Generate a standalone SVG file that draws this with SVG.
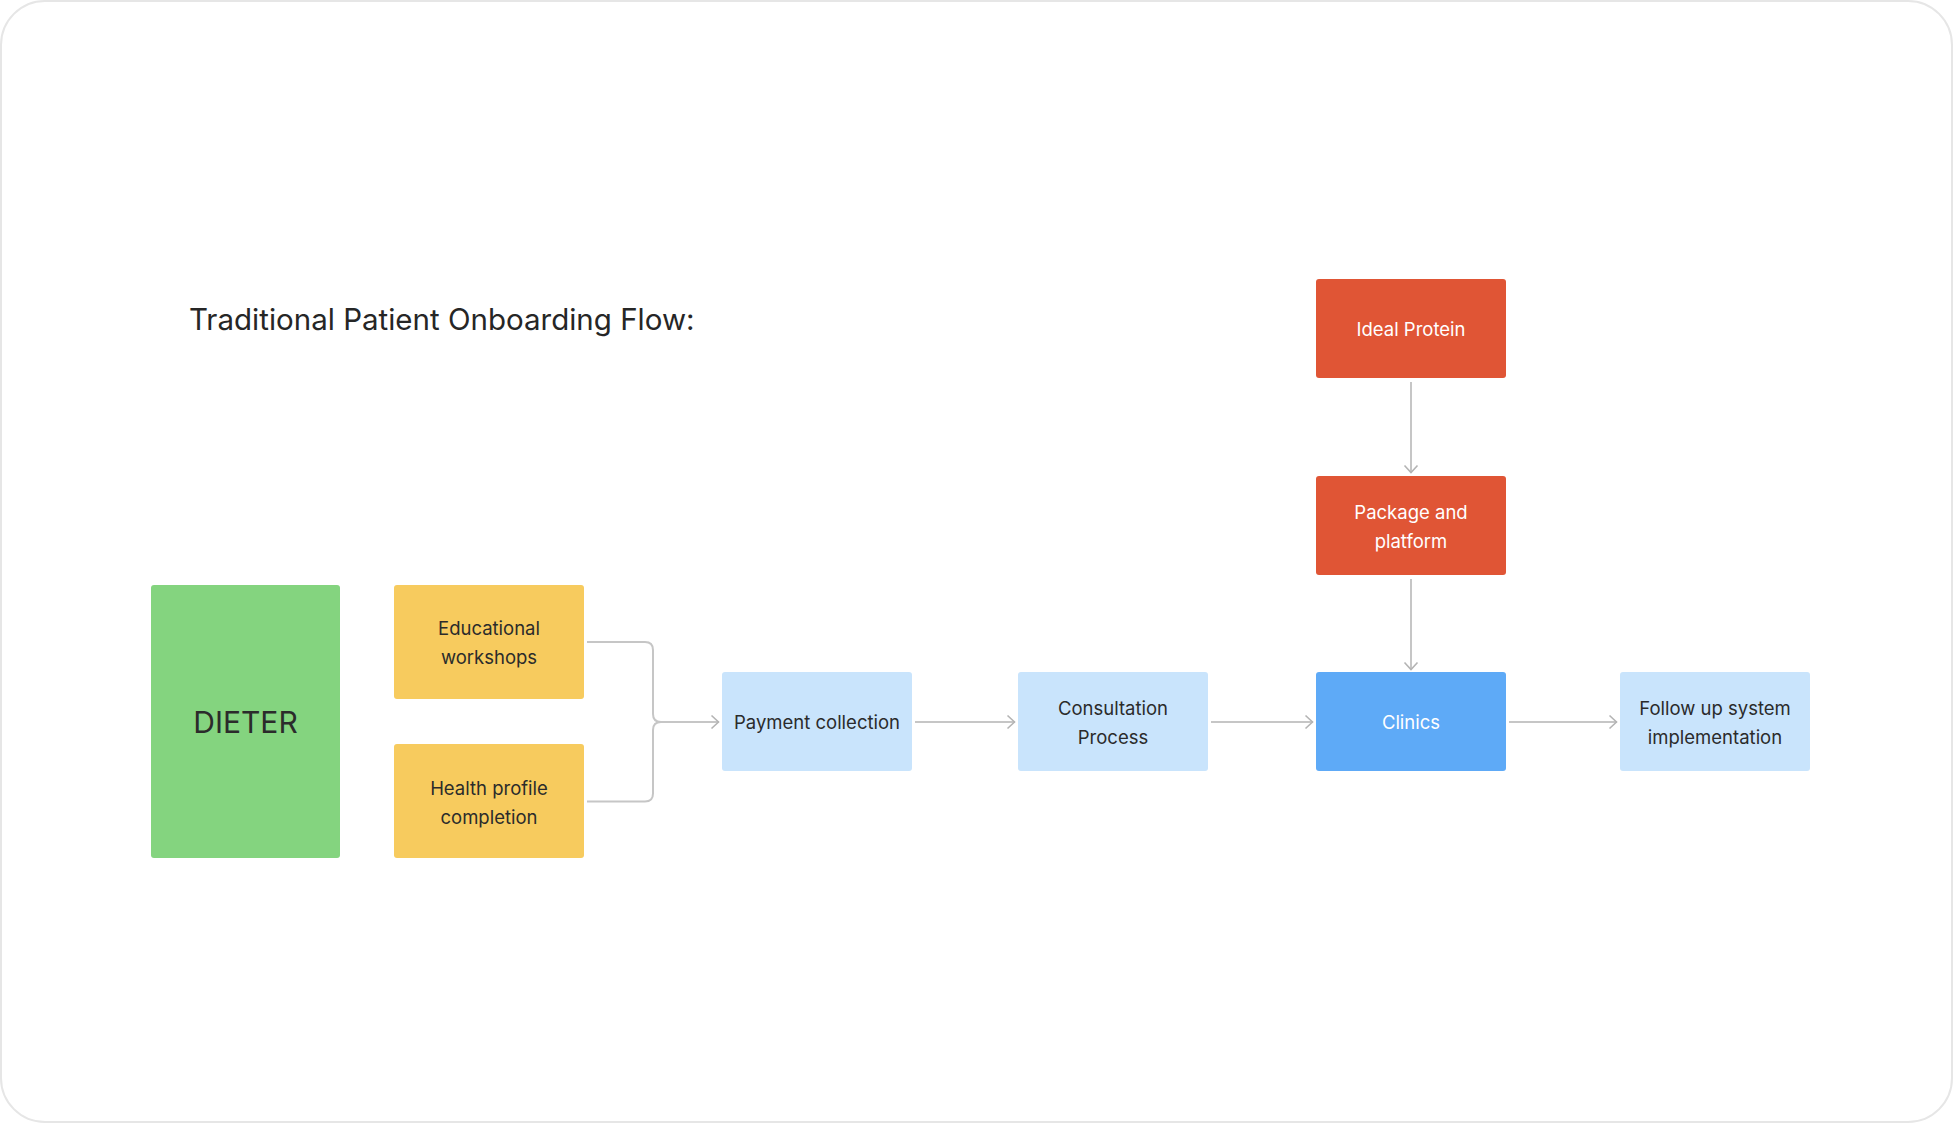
<svg xmlns="http://www.w3.org/2000/svg" width="1954" height="1124" viewBox="0 0 1954 1124">
<defs>
<style>
.lbl{font-family:Inter,"Noto Sans","Liberation Sans",sans-serif;font-size:18.5px;text-anchor:middle;fill:#2b2b2b}
.wht{fill:#ffffff}
.conn{fill:none;stroke:#c6c6c6;stroke-width:2}
</style>
<marker id="arr" viewBox="0 0 10 16" refX="9" refY="8" markerWidth="10" markerHeight="16" markerUnits="userSpaceOnUse" orient="auto">
<path d="M1.5,1.5 L8.5,8 L1.5,14.5" fill="none" stroke="#b4b4b4" stroke-width="1.6"/>
</marker>
</defs>
<rect x="0" y="0" width="1954" height="1124" fill="#ffffff"/>
<rect x="1" y="1" width="1951" height="1121" rx="44" fill="#ffffff" stroke="#e6e6e6" stroke-width="2"/>
<text x="189" y="329.5" font-family="Inter,'Noto Sans','Liberation Sans',sans-serif" font-size="29.5" fill="#262626">Traditional Patient Onboarding Flow:</text>

<g id="connectors">
<path class="conn" d="M587,642 H645 Q653,642 653,650 V714 Q653,722 661,722"/>
<path class="conn" d="M587,801.5 H645 Q653,801.5 653,793.5 V730 Q653,722 661,722 H719" marker-end="url(#arr)"/>
<path class="conn" d="M915,722 H1015" marker-end="url(#arr)"/>
<path class="conn" d="M1211,722 H1313" marker-end="url(#arr)"/>
<path class="conn" d="M1509,722 H1617" marker-end="url(#arr)"/>
<path class="conn" d="M1411,382 V473" marker-end="url(#arr)"/>
<path class="conn" d="M1411,579 V670" marker-end="url(#arr)"/>
</g>

<g id="dieter">
<rect x="151" y="585" width="189" height="273" rx="3" fill="#84d47f"/>
<text class="lbl" x="245.5" y="733" style="font-size:30px" fill="#1f2a1f">DIETER</text>
</g>
<g id="educational">
<rect x="394" y="585" width="190" height="114" rx="3" fill="#f7cb5e"/>
<text class="lbl" x="489" y="635">Educational</text>
<text class="lbl" x="489" y="664">workshops</text>
</g>
<g id="health">
<rect x="394" y="744" width="190" height="114" rx="3" fill="#f7cb5e"/>
<text class="lbl" x="489" y="795">Health profile</text>
<text class="lbl" x="489" y="824">completion</text>
</g>
<g id="payment">
<rect x="722" y="672" width="190" height="99" rx="3" fill="#c9e4fc"/>
<text class="lbl" x="817" y="729">Payment collection</text>
</g>
<g id="consultation">
<rect x="1018" y="672" width="190" height="99" rx="3" fill="#c9e4fc"/>
<text class="lbl" x="1113" y="715">Consultation</text>
<text class="lbl" x="1113" y="744">Process</text>
</g>
<g id="clinics">
<rect x="1316" y="672" width="190" height="99" rx="3" fill="#5eaaf7"/>
<text class="lbl wht" x="1411" y="729">Clinics</text>
</g>
<g id="followup">
<rect x="1620" y="672" width="190" height="99" rx="3" fill="#c9e4fc"/>
<text class="lbl" x="1715" y="715">Follow up system</text>
<text class="lbl" x="1715" y="744">implementation</text>
</g>
<g id="idealprotein">
<rect x="1316" y="279" width="190" height="99" rx="3" fill="#e05535"/>
<text class="lbl wht" x="1411" y="336">Ideal Protein</text>
</g>
<g id="package">
<rect x="1316" y="476" width="190" height="99" rx="3" fill="#e05535"/>
<text class="lbl wht" x="1411" y="519">Package and</text>
<text class="lbl wht" x="1411" y="548">platform</text>
</g>
</svg>
